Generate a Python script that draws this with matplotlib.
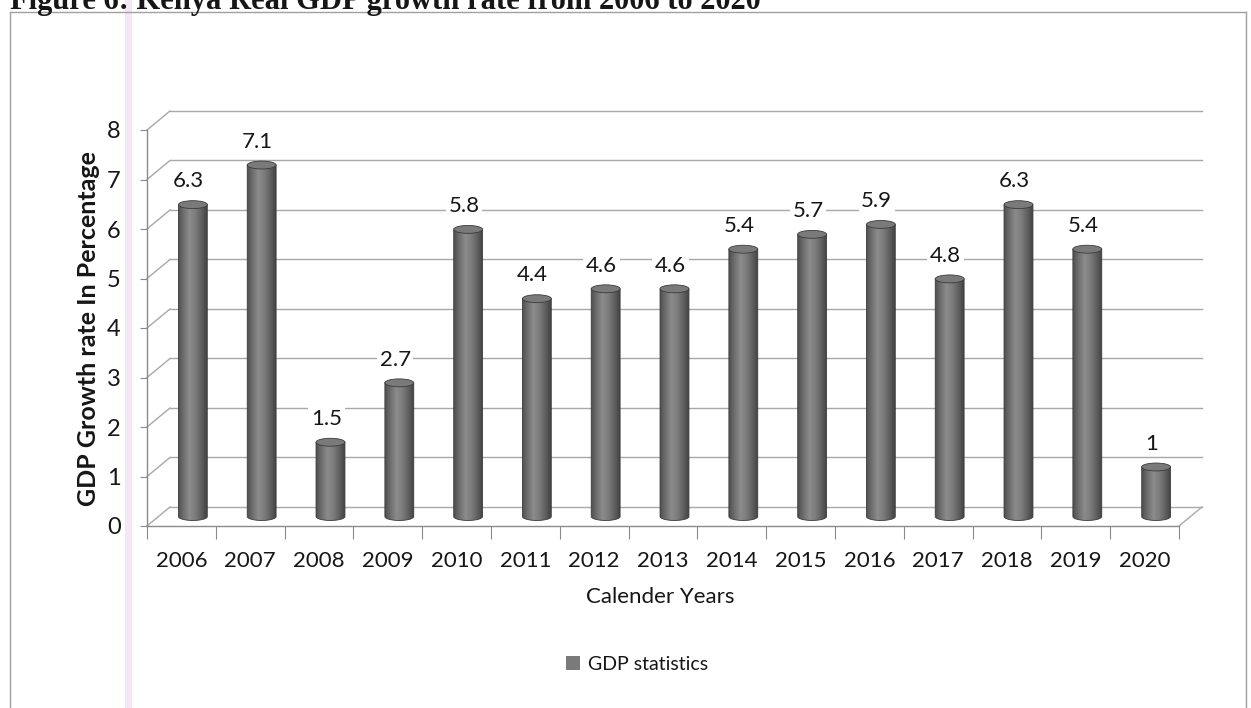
import numpy as np
import matplotlib
matplotlib.use('Agg')
import matplotlib.pyplot as plt
from matplotlib.patches import Ellipse, PathPatch
from matplotlib.path import Path
from matplotlib.lines import Line2D
from matplotlib.colors import LinearSegmentedColormap

# ---------------- data ----------------
years = ['2006', '2007', '2008', '2009', '2010', '2011', '2012', '2013',
         '2014', '2015', '2016', '2017', '2018', '2019', '2020']
growth = [6.3, 7.1, 1.5, 2.7, 5.8, 4.4, 4.6, 4.6, 5.4, 5.7, 5.9, 4.8, 6.3, 5.4, 1.0]
y_ticks = [0, 1, 2, 3, 4, 5, 6, 7, 8]
series_name = 'GDP statistics'
title = 'Figure 6: Kenya Real GDP growth rate from 2006 to 2020'
x_label = 'Calender Years'
y_label = 'GDP Growth rate In Percentage'

# ---------------- style / layout ----------------
W, H = 1251, 708
FONT = ['Lato', 'DejaVu Sans']
plt.rcParams['font.family'] = FONT
DX, DY = 0.334, 0.384          # pseudo-3D depth offset (category, value units)
BAR_W = 0.42
CAP_H = 0.16
GRID_C = '#a8a8a8'
TXT_C = '#161616'

fig = plt.figure(figsize=(W / 100, H / 100), dpi=100)
fig.patch.set_facecolor('white')

n = len(years)
px_per_cat = 68.8
px_per_val = 49.5
ax = fig.add_axes([147 / W, 182 / H, (n + 0.5) * px_per_cat / W, 8.5 * px_per_val / H])
ax.set_facecolor('none')

# back wall gridlines + left wall diagonals
for k in y_ticks:
    ax.plot([0, DX], [k, k + DY], color=GRID_C, lw=1, zorder=1, clip_on=False)
    ax.plot([DX, n + DX], [k + DY, k + DY], color=GRID_C, lw=1, zorder=1, clip_on=False)
# floor right edge
ax.plot([n, n + DX], [0, DY], color=GRID_C, lw=1, zorder=1, clip_on=False)

# cylinder gradient colormap
cyl_cmap = LinearSegmentedColormap.from_list(
    'cyl', ['#505050', '#707070', '#8c8c8c', '#7c7c7c', '#626262', '#444444'])
grad = np.linspace(0, 1, 64).reshape(1, -1)

theta = np.linspace(np.pi, 2 * np.pi, 40)
bars = ax.bar([i + 0.5 + DX / 2 for i in range(n)], growth, bottom=DY / 2,
              width=BAR_W, color='#6a6a6a', edgecolor='none', zorder=3,
              label=series_name)
for i, (v, rect) in enumerate(zip(growth, bars)):
    xc = i + 0.5 + DX / 2
    y0 = DY / 2
    # body path: rectangle with rounded (half-ellipse) bottom
    bx = xc + (BAR_W / 2) * np.cos(theta)
    by = y0 + (CAP_H / 2) * np.sin(theta)
    verts = np.column_stack([bx, by]).tolist()
    verts += [[xc + BAR_W / 2, y0 + v], [xc - BAR_W / 2, y0 + v], verts[0]]
    codes = [Path.MOVETO] + [Path.LINETO] * (len(verts) - 2) + [Path.CLOSEPOLY]
    body = PathPatch(Path(verts, codes), facecolor='none', edgecolor='#3a3a3a',
                     lw=0.6, zorder=4)
    ax.add_patch(body)
    rect.set_visible(False)
    im = ax.imshow(grad, cmap=cyl_cmap, aspect='auto', zorder=3.5,
                   extent=[xc - BAR_W / 2, xc + BAR_W / 2, y0 - CAP_H, y0 + v],
                   interpolation='bilinear')
    im.set_clip_path(body)
    # top cap
    ax.add_patch(Ellipse((xc, y0 + v), BAR_W, CAP_H, facecolor='#7a7a7a',
                         edgecolor='#3a3a3a', lw=0.6, zorder=5))
    # data label
    ax.text(xc - 0.06, y0 + v + 0.47, f'{v:g}', ha='center', va='center',
            fontsize=16, color=TXT_C, zorder=6,
            bbox=dict(facecolor='white', edgecolor='none', pad=2))

ax.set_xlim(0, n + 0.5)
ax.set_ylim(0, 8.5)

# axes / spines
for s in ['top', 'right']:
    ax.spines[s].set_visible(False)
ax.spines['left'].set_bounds(0, 8)
ax.spines['bottom'].set_bounds(0, n)
for s in ['left', 'bottom']:
    ax.spines[s].set_color('#8a8a8a')
    ax.spines[s].set_linewidth(1)

ax.set_yticks(y_ticks)
ax.set_yticklabels([str(t) for t in y_ticks])
ax.tick_params(axis='y', direction='out', length=5, color='#8a8a8a',
               labelsize=17, labelcolor=TXT_C, pad=14)
ax.set_xticks(range(n + 1))
ax.set_xticklabels([])
ax.tick_params(axis='x', which='major', direction='out', length=9, color='#8a8a8a')
ax.set_xticks([i + 0.5 for i in range(n)], minor=True)
ax.set_xticklabels(years, minor=True)
ax.tick_params(axis='x', which='minor', length=0, labelsize=16,
               labelcolor=TXT_C, pad=18)

ax.set_ylabel(y_label, fontsize=18, fontweight='bold', color=TXT_C)
ax.yaxis.set_label_coords(-0.044, 0.47)
ax.set_xlabel(x_label, fontsize=16, color=TXT_C)
ax.xaxis.set_label_coords(0.481, -0.145)

# legend
leg_handle = plt.Rectangle((0, 0), 1, 1, facecolor='#7a7a7a', edgecolor='none')
ax.legend([leg_handle], [series_name], loc='center',
          bbox_to_anchor=(637 / W, 1 - 664 / H), bbox_transform=fig.transFigure,
          frameon=False, fontsize=14, handlelength=0.7, handleheight=0.7,
          handletextpad=0.4, labelcolor=TXT_C)

# title (partially cut by page scan) and frame
fig.text(10 / W, 1 - 9 / H, title, ha='left', va='baseline', fontsize=22,
         fontweight='bold', family=['Liberation Serif', 'DejaVu Serif'], color=TXT_C)
fig.add_artist(Line2D([10 / W, 1246 / W], [1 - 12 / H, 1 - 12 / H],
                      transform=fig.transFigure, color='#a0a0a0', lw=1))
fig.add_artist(Line2D([10 / W, 10 / W], [0, 1 - 12 / H],
                      transform=fig.transFigure, color='#a0a0a0', lw=1))
fig.add_artist(Line2D([1246 / W, 1246 / W], [0, 1 - 12 / H],
                      transform=fig.transFigure, color='#a0a0a0', lw=1))
fig.add_artist(Line2D([128 / W, 128 / W], [0, 1],
                      transform=fig.transFigure, color='#f2e0f1', lw=5, alpha=0.8,
                      zorder=0))

fig.savefig('out.png', dpi=100)
